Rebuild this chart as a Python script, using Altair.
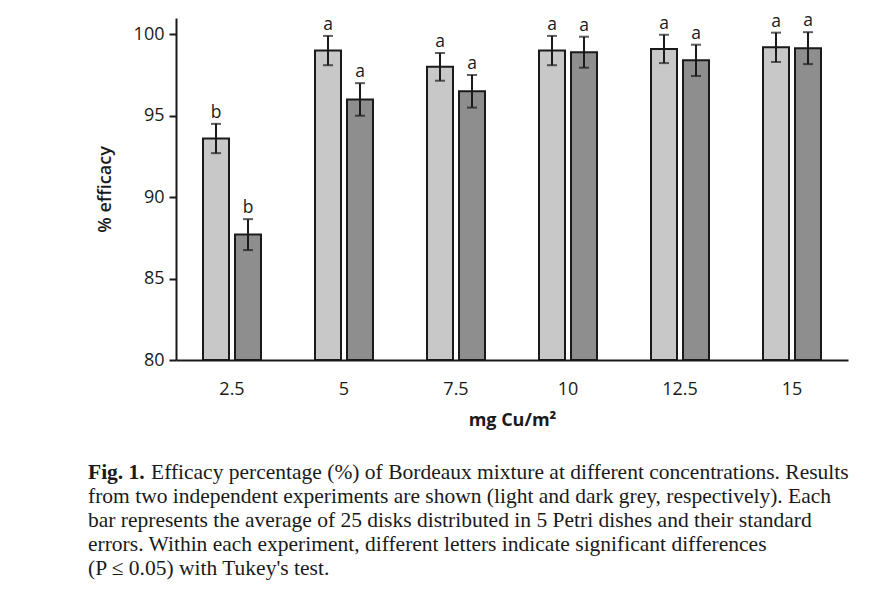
import altair as alt
import pandas as pd

concentrations = ["2.5", "5", "7.5", "10", "12.5", "15"]
experiments = ["Experiment 1", "Experiment 2"]
exp1_mean = [93.6, 99.0, 98.0, 99.0, 99.1, 99.2]
exp1_se = [0.9, 0.9, 0.85, 0.9, 0.87, 0.9]
exp2_mean = [87.7, 96.0, 96.5, 98.9, 98.4, 99.15]
exp2_se = [0.95, 1.0, 1.0, 0.95, 0.96, 0.98]
exp1_letters = ["b", "a", "a", "a", "a", "a"]
exp2_letters = ["b", "a", "a", "a", "a", "a"]
y_ticks = [80, 85, 90, 95, 100]

caption_bold = "Fig. 1."
caption_lines = [
    "Efficacy percentage (%) of Bordeaux mixture at different concentrations. Results",
    "from two independent experiments are shown (light and dark grey, respectively). Each",
    "bar represents the average of 25 disks distributed in 5 Petri dishes and their standard",
    "errors. Within each experiment, different letters indicate significant differences",
    "(P \u2264 0.05) with Tukey's test.",
]

rows = []
for exp, means, ses, letters in [
    (experiments[0], exp1_mean, exp1_se, exp1_letters),
    (experiments[1], exp2_mean, exp2_se, exp2_letters),
]:
    for c, m, s, l in zip(concentrations, means, ses, letters):
        rows.append({"conc": c, "exp": exp, "mean": m, "lo": m - s, "hi": m + s, "letter": l})
df = pd.DataFrame(rows)

W, H = 672, 342
FONT = "Open Sans"
INK = "#1a1a1a"

x_enc = alt.X(
    "conc:N",
    sort=concentrations,
    scale=alt.Scale(paddingInner=0, paddingOuter=0),
    axis=alt.Axis(
        title="mg Cu/m\u00b2",
        labelAngle=0,
        ticks=False,
        labelPadding=20,
        labelFontSize=18,
        labelFont=FONT,
        labelColor=INK,
        titleFont=FONT,
        titleFontSize=18,
        titleFontWeight="bold",
        titleColor=INK,
        titlePadding=13,
        domainColor=INK,
        domainWidth=2,
    ),
)
xoff_enc = alt.XOffset(
    "exp:N", sort=experiments, scale=alt.Scale(paddingInner=0.1875, paddingOuter=0.84375)
)
y_scale = alt.Scale(domain=[80, 101], nice=False, zero=False)

base = alt.Chart(df).encode(x=x_enc, xOffset=xoff_enc)

bars = base.mark_bar(stroke=INK, strokeWidth=2).encode(
    y=alt.Y(
        "mean:Q",
        scale=y_scale,
        axis=alt.Axis(
            title="% efficacy",
            values=y_ticks,
            grid=False,
            tickColor=INK,
            tickWidth=2,
            tickSize=7,
            labelPadding=5,
            labelFontSize=18,
            labelFont=FONT,
            labelColor=INK,
            titleFont=FONT,
            titleFontSize=18,
            titleFontWeight=600,
            titleColor=INK,
            titlePadding=19,
            domainColor=INK,
            domainWidth=2,
        ),
    ),
    y2=alt.datum(80),
    color=alt.Color(
        "exp:N", scale=alt.Scale(domain=experiments, range=["#c8c8c8", "#8e8e8e"]), legend=None
    ),
)

err = base.mark_rule(color=INK, strokeWidth=2).encode(y="lo:Q", y2="hi:Q")
cap_lo = base.mark_tick(color=INK, thickness=2, size=10).encode(y="lo:Q")
cap_hi = base.mark_tick(color=INK, thickness=2, size=10).encode(y="hi:Q")
letters = base.mark_text(
    dy=-6, baseline="alphabetic", fontSize=17.5, font=FONT, color=INK
).encode(y="hi:Q", text="letter:N")

CAP_FONT = "Liberation Serif"
CAP_SIZE = 21.5
cap_layers = []
line_y = [455, 479, 503, 527, 551]
cap_layers.append(
    alt.Chart(pd.DataFrame({"t": [caption_bold]}))
    .mark_text(align="left", baseline="middle", font=CAP_FONT, fontSize=CAP_SIZE, fontWeight="bold", color=INK)
    .encode(x=alt.value(-88), y=alt.value(line_y[0]), text="t:N")
)
for i, line in enumerate(caption_lines):
    xpos = -25 if i == 0 else -88
    cap_layers.append(
        alt.Chart(pd.DataFrame({"t": [line]}))
        .mark_text(align="left", baseline="middle", font=CAP_FONT, fontSize=CAP_SIZE, color=INK)
        .encode(x=alt.value(xpos), y=alt.value(line_y[i]), text="t:N")
    )

chart = (
    alt.layer(bars, err, cap_lo, cap_hi, letters, *cap_layers)
    .properties(
        width=W,
        height=H,
        autosize=alt.AutoSizeParams(type="none"),
        padding={"left": 168, "top": 10, "right": 39, "bottom": 222},
        background="white",
    )
    .configure_view(stroke=None)
)

chart.save("out.html", embed_options={"renderer": "svg", "actions": False})
